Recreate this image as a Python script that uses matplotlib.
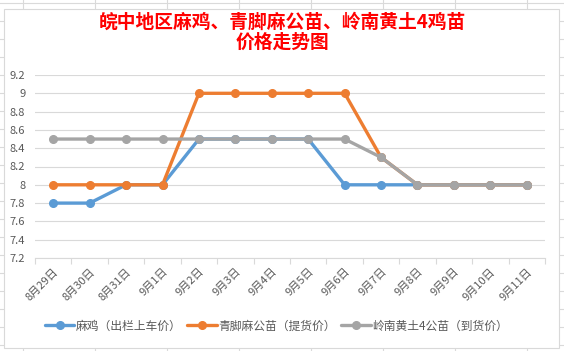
import matplotlib
matplotlib.use("Agg")
import matplotlib.pyplot as plt
from matplotlib.patches import Rectangle
from matplotlib.lines import Line2D

plt.rcParams['font.family'] = ['Noto Sans CJK SC', 'DejaVu Sans']

categories = ["8月29日", "8月30日", "8月31日", "9月1日", "9月2日", "9月3日", "9月4日",
              "9月5日", "9月6日", "9月7日", "9月8日", "9月9日", "9月10日", "9月11日"]
maji = [7.8, 7.8, 8.0, 8.0, 8.5, 8.5, 8.5, 8.5, 8.0, 8.0, 8.0, 8.0, 8.0, 8.0]
qingjiao = [8.0, 8.0, 8.0, 8.0, 9.0, 9.0, 9.0, 9.0, 9.0, 8.3, 8.0, 8.0, 8.0, 8.0]
lingnan = [8.5, 8.5, 8.5, 8.5, 8.5, 8.5, 8.5, 8.5, 8.5, 8.3, 8.0, 8.0, 8.0, 8.0]
series_names = ["麻鸡（出栏上车价）", "青脚麻公苗（提货价）", "岭南黄土4公苗（到货价）"]
colors = ["#5B9BD5", "#ED7D31", "#A5A5A5"]
yticks = [7.2, 7.4, 7.6, 7.8, 8.0, 8.2, 8.4, 8.6, 8.8, 9.0, 9.2]
ytick_labels = ["7.2", "7.4", "7.6", "7.8", "8", "8.2", "8.4", "8.6", "8.8", "9", "9.2"]
title = "皖中地区麻鸡、青脚麻公苗、岭南黄土4鸡苗\n价格走势图"

W, H = 564, 351
fig = plt.figure(figsize=(W / 100, H / 100), dpi=100)
fig.patch.set_facecolor("white")

# spreadsheet background grid
for x in range(23, W, 72):
    fig.add_artist(Line2D([x / W, x / W], [0, 1], color="#DADADA", lw=0.8, zorder=0))
for y in range(3, H, 18):
    fig.add_artist(Line2D([0, 1], [1 - y / H, 1 - y / H], color="#DADADA", lw=0.8, zorder=0))
# chart area
x0, y0, x1, y1 = 3.5, 9, 559, 348
fig.add_artist(Rectangle((x0 / W, 1 - y1 / H), (x1 - x0) / W, (y1 - y0) / H,
                         facecolor="white", edgecolor="#D9D9D9", lw=0.8, zorder=1))

# plot area
left, right, top, bottom = 35, 545, 75, 258
ax = fig.add_axes([left / W, 1 - bottom / H, (right - left) / W, (bottom - top) / H], zorder=2)
ax.set_facecolor("none")
n = len(categories)
xs = list(range(n))
for vals, c, name in [(maji, colors[0], series_names[0]),
                      (qingjiao, colors[1], series_names[1]),
                      (lingnan, colors[2], series_names[2])]:
    ax.plot(xs, vals, color=c, lw=2.4, marker="o", ms=5.5, label=name, solid_capstyle="round")

ax.set_xlim(-0.5, n - 0.5)
ax.set_ylim(7.2, 9.2)
ax.set_yticks(yticks)
ax.set_yticklabels(ytick_labels)
ax.yaxis.grid(True, color="#D9D9D9", lw=0.8)
ax.set_axisbelow(True)
for s in ["top", "right", "left"]:
    ax.spines[s].set_visible(False)
ax.spines["bottom"].set_color("#D9D9D9")
ax.spines["bottom"].set_linewidth(0.8)
ax.tick_params(axis="y", length=0, labelsize=8, labelcolor="#595959", pad=7)
ax.set_xticks(xs)
ax.set_xticklabels(categories, rotation=45, ha="right", rotation_mode="anchor")
ax.tick_params(axis="x", length=0, labelsize=8, labelcolor="#595959", pad=6)
ax.set_xticks([i - 0.5 for i in range(n + 1)], minor=True)
ax.tick_params(axis="x", which="minor", length=4, color="#D9D9D9", width=0.8)

fig.text(0.5, 1 - 32 / H, title, ha="center", va="center", color="#FF0000",
         fontsize=13.5, fontweight="bold", linespacing=1.1)

handles, labels = ax.get_legend_handles_labels()
fig.legend(handles, labels, loc="center", bbox_to_anchor=(0.49, 1 - 326 / H), ncol=3,
           frameon=False, fontsize=8.5, labelcolor="#595959", handlelength=2.5,
           handletextpad=0.1, columnspacing=0.5)

fig.savefig("out.png", dpi=100)
